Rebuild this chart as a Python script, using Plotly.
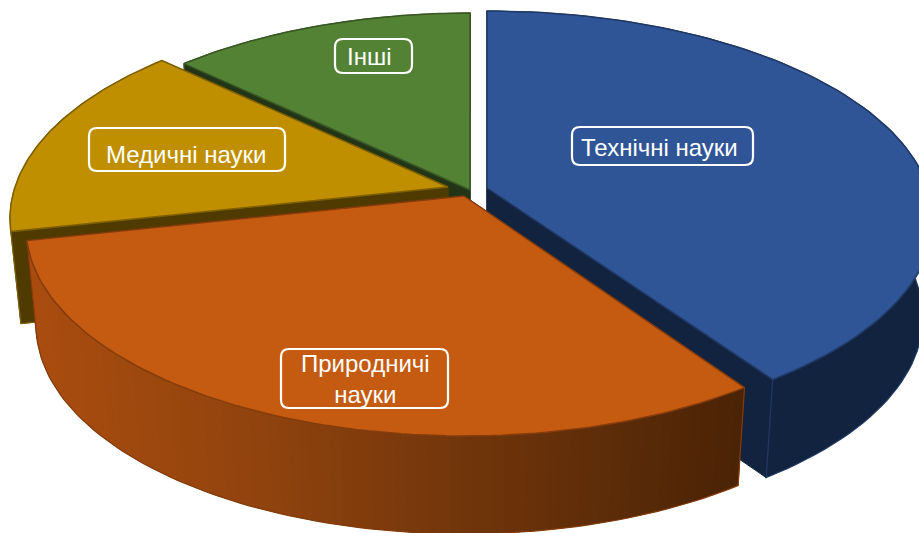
import numpy as np
import plotly.graph_objects as go

categories = ["Технічні науки", "Природничі науки", "Медичні науки", "Інші"]
values = [40.4, 31.2, 15.4, 13.0]
label_lines = [["Технічні науки"], ["Природничі", "науки"], ["Медичні науки"], ["Інші"]]

top_colors = ["#2f5597", "#c55a11", "#bf8f00", "#548235"]
edge_colors = ["#203864", "#843c0c", "#7f6000", "#385723"]
side_colors = ["#12233f", "#4a2306", "#4f3b00", "#223517"]

# styling / layout of the 3-D view (not data)
apexes = [(487, 188), (464, 196), (448, 187), (470, 190)]
depths = [98.0, 98.0, 92.0, 98.0]
radii_x = [441.0, 433.0, 433.0, 433.0]
label_pos = [(659, 147), (365, 379), (186, 154), (369, 56)]
label_boxes = [(572, 127, 753, 165), (281, 349, 448, 408), (89, 128, 285, 171), (335, 39, 412, 73)]
RY, PERSP, BOTTOM_SCALE = 203.7, 0.151, 0.977
GRAD = [(37, (170, 77, 16)), (250, (146, 68, 14)), (500, (108, 51, 11)), (739, (74, 35, 6))]


def project(theta, i, depth=None):
    apex = apexes[i]
    X, Y = np.sin(theta), -np.cos(theta)
    s = 1.0 / (1.0 - PERSP * Y)
    dx, dy = radii_x[i] * X * s, RY * Y * s
    if depth is not None:
        return apex[0] + dx * BOTTOM_SCALE, apex[1] + dy + depth
    return apex[0] + dx, apex[1] + dy


def poly(fig, xs, ys, fill, line, width=1.2):
    fig.add_trace(go.Scatter(x=list(xs), y=list(ys), mode="lines", fill="toself", fillcolor=fill,
                             line=dict(color=line, width=width), hoverinfo="skip", showlegend=False))


def stroke(fig, xs, ys, color, width=1.2):
    fig.add_trace(go.Scatter(x=list(xs), y=list(ys), mode="lines", line=dict(color=color, width=width),
                             hoverinfo="skip", showlegend=False))


def grad_color(x):
    xs = [g[0] for g in GRAD]
    return "rgb(%d,%d,%d)" % tuple(np.interp(x, xs, [g[1][i] for g in GRAD]) for i in range(3))


cum = np.concatenate([[0], np.cumsum(values)]) / np.sum(values) * 2 * np.pi
fig = go.Figure()

# painter's order: back slices first, front slice last
for i in [3, 2, 0, 1]:
    a0, a1, apex, depth = cum[i], cum[i + 1], apexes[i], depths[i]
    th = np.linspace(a0, a1, 90)
    # outer side wall
    if i == 1:
        # radial faces first, gradient wall over them
        for a in (a0, a1):
            tx, ty = project(a, i)
            bx, by = project(a, i, depth)
            poly(fig, [apex[0], tx, bx, apex[0], apex[0]], [apex[1], ty, by, apex[1] + depth, apex[1]],
                 side_colors[i], side_colors[i], 1)
        n = 90
        edges = np.linspace(a0, a1, n + 1)
        for k in range(n):
            t = np.linspace(edges[k], edges[min(k + 2, n)], 4)
            x1, y1 = project(t, i)
            x2, y2 = project(t, i, depth)
            c = grad_color(np.mean(x2))
            poly(fig, [*x1, *x2[::-1]], [*y1, *y2[::-1]], c, c, 0)
        bx, by = project(th, i, depth)
        tx0, ty0 = project(a0, i)
        tx1, ty1 = project(a1, i)
        stroke(fig, [tx0, *bx, tx1], [ty0, *by, ty1], edge_colors[i])
    else:
        x1, y1 = project(th, i)
        x2, y2 = project(th, i, depth)
        poly(fig, [*x1, *x2[::-1]], [*y1, *y2[::-1]], side_colors[i], edge_colors[i])
        for a in (a0, a1):
            tx, ty = project(a, i)
            bx, by = project(a, i, depth)
            poly(fig, [apex[0], tx, bx, apex[0], apex[0]], [apex[1], ty, by, apex[1] + depth, apex[1]],
                 side_colors[i], side_colors[i], 1)
        # visible corner edge of the wedge
        corner = a1 if i == 0 else a0
        tx, ty = project(corner, i)
        bx, by = project(corner, i, depth)
        if i == 2:
            stroke(fig, [tx, bx, apex[0]], [ty, by, apex[1] + depth], edge_colors[i])
        else:
            stroke(fig, [tx, bx], [ty, by], edge_colors[i])
    # top face
    x, y = project(th, i)
    poly(fig, [apex[0], *x, apex[0]], [apex[1], *y, apex[1]], top_colors[i], edge_colors[i], 1.5)

shapes = []
for (x0, y0, x1, y1) in label_boxes:
    r = 8
    path = (f"M {x0+r},{y0} L {x1-r},{y0} Q {x1},{y0} {x1},{y0+r} L {x1},{y1-r} Q {x1},{y1} {x1-r},{y1} "
            f"L {x0+r},{y1} Q {x0},{y1} {x0},{y1-r} L {x0},{y0+r} Q {x0},{y0} {x0+r},{y0} Z")
    shapes.append(dict(type="path", path=path, xref="x", yref="y", line=dict(color="white", width=2.2)))

annotations = [
    dict(x=p[0], y=p[1], xref="x", yref="y", showarrow=False, align="center",
         text="<br>".join(lines), font=dict(family="Liberation Sans, Arial", size=24, color="white"))
    for p, lines in zip(label_pos, label_lines)
]

fig.update_layout(
    width=919, height=533, margin=dict(l=0, r=0, t=0, b=0),
    paper_bgcolor="white", plot_bgcolor="white", showlegend=False,
    xaxis=dict(range=[0, 919], visible=False, fixedrange=True),
    yaxis=dict(range=[533, 0], visible=False, fixedrange=True),
    shapes=shapes, annotations=annotations,
)
fig.write_html("out.html", config={"displayModeBar": False},
               post_script="document.body.style.margin='0';document.body.style.overflow='hidden';")
